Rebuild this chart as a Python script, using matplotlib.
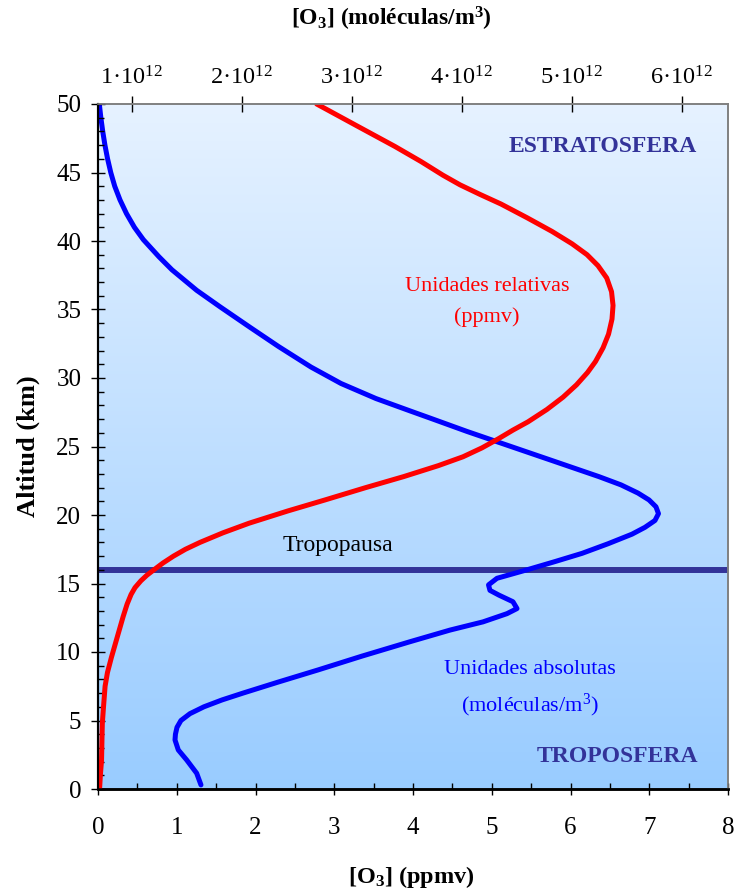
import numpy as np
import matplotlib.pyplot as plt
from matplotlib.ticker import MultipleLocator

plt.rcParams['font.family'] = ['Liberation Serif', 'DejaVu Serif']
plt.rcParams['mathtext.fontset'] = 'custom'
plt.rcParams['mathtext.rm'] = 'Liberation Serif'
plt.rcParams['mathtext.it'] = 'Liberation Serif:italic'
plt.rcParams['mathtext.bf'] = 'Liberation Serif:bold'

# Ozone mixing ratio (ppmv) vs altitude (km)
alt_ppmv = [0.0, 1.0, 2.1, 3.5, 4.8, 6.0, 7.5, 8.5, 9.6, 11.0, 12.6, 13.5, 14.2,
            14.7, 15.2, 15.6, 16.0, 16.5, 17.0, 17.5, 18.0, 18.7, 19.4, 20.3, 21.1,
            22.0, 22.8, 23.6, 24.25, 24.9, 25.55, 26.2, 26.8, 27.7, 28.6, 29.5,
            30.4, 31.2, 32.2, 33.2, 34.3, 35.3, 36.3, 37.3, 38.2, 39.0, 39.8,
            40.7, 41.7, 42.7, 43.4, 44.1, 44.8, 45.8, 46.9, 48.4, 50.0]
o3_ppmv = [0.02, 0.03, 0.045, 0.05, 0.055, 0.07, 0.09, 0.12, 0.17, 0.24, 0.32, 0.37,
           0.42, 0.47, 0.545, 0.62, 0.71, 0.826, 0.959, 1.111, 1.295, 1.587, 1.918,
           2.413, 2.883, 3.40, 3.88, 4.32, 4.635, 4.876, 5.08, 5.27, 5.46, 5.70,
           5.905, 6.076, 6.216, 6.317, 6.413, 6.483, 6.527, 6.54, 6.521, 6.46,
           6.349, 6.21, 6.019, 5.765, 5.448, 5.117, 4.851, 4.597, 4.381, 4.102,
           3.771, 3.289, 2.777]

# Ozone number density (10^12 molecules/m^3) vs altitude (km)
alt_dens = [0.3, 1.15, 2.12, 2.85, 3.58, 4.0, 4.5, 5.0, 5.5, 6.0, 6.5, 7.0, 7.8,
            8.69, 9.7, 10.75, 11.6, 12.2, 12.8, 13.17, 13.67, 14.15, 14.5, 14.9,
            15.38, 16.0, 16.6, 17.2, 17.9, 18.6, 19.1, 19.6, 20.1, 20.6, 21.1,
            21.6, 22.2, 22.8, 23.4, 24.0, 24.7, 25.5, 26.1, 27.05, 27.6, 28.5,
            29.6, 30.8, 32.3, 33.7, 35.2, 36.4, 37.9, 38.85, 40.1, 41.0, 42.0,
            43.0, 44.0, 45.0, 46.0, 47.0, 48.0, 49.0, 50.0]
o3_dens = [1.629, 1.590, 1.499, 1.423, 1.393, 1.397, 1.411, 1.447, 1.529, 1.656,
           1.820, 2.011, 2.329, 2.693, 3.093, 3.529, 3.893, 4.193, 4.411, 4.502,
           4.465, 4.338, 4.256, 4.243, 4.320, 4.593, 4.847, 5.093, 5.329, 5.547,
           5.665, 5.756, 5.788, 5.765, 5.702, 5.602, 5.447, 5.247, 5.029, 4.811,
           4.556, 4.265, 4.047, 3.720, 3.529, 3.220, 2.902, 2.629, 2.334, 2.075,
           1.802, 1.590, 1.365, 1.247, 1.105, 1.024, 0.952, 0.893, 0.845, 0.809,
           0.780, 0.756, 0.736, 0.719, 0.705]

tropopause_km = 16
dens_ticks = [1, 2, 3, 4, 5, 6]
dens_range = (0.693, 6.42)

fig = plt.figure(figsize=(7.36, 8.92), dpi=100)
ax = fig.add_axes([98 / 736, 1 - 789 / 892, 630 / 736, 685 / 892])
ax2 = ax.twiny()

# back axes: gradient, tropopause and density profile
ax.set_zorder(ax2.get_zorder() + 1)
ax.patch.set_visible(False)

top_col = np.array([0.902, 0.949, 1.0])
bot_col = np.array([0.60, 0.80, 1.0])
t = np.linspace(0, 1, 256)[:, None, None]
grad = top_col * (1 - t) + bot_col * t
ax2.imshow(grad, extent=(dens_range[0], dens_range[1], 0, 50), aspect='auto',
           origin='upper', zorder=0)
ax2.axhline(tropopause_km, color='#333399', lw=4.3, zorder=1)
ax2.plot(o3_dens, alt_dens, color='#0000FF', lw=3.6, solid_capstyle='round',
         solid_joinstyle='round', zorder=2)
ax2.set_xlim(*dens_range)
ax2.set_ylim(0, 50)

# front axes: mixing ratio profile
ax.plot(o3_ppmv, alt_ppmv, color='#FF0000', lw=3.6, solid_capstyle='round',
        solid_joinstyle='round')
ax.set_xlim(0, 8)
ax.set_ylim(0, 50)

ax.xaxis.set_major_locator(MultipleLocator(1))
ax.xaxis.set_minor_locator(MultipleLocator(0.5))
ax.yaxis.set_major_locator(MultipleLocator(5))
ax.yaxis.set_minor_locator(MultipleLocator(1))
ax.tick_params(axis='x', which='major', direction='inout', length=9, width=1,
               labelsize=18, pad=16, top=False)
ax.tick_params(axis='x', which='minor', direction='in', length=4.5, width=1, top=False)
ax.tick_params(axis='y', which='major', direction='inout', length=10, width=1,
               labelsize=18, pad=7)
ax.tick_params(axis='y', which='minor', direction='in', length=4, width=1)

ax2.set_xticks(dens_ticks)
ax2.set_xticklabels([f'${v}·10^{{12}}$' for v in dens_ticks])
ax2.tick_params(axis='x', which='major', direction='inout', length=11, width=1,
                labelsize=17.5, pad=5)

for a in (ax, ax2):
    a.spines['left'].set_color('black')
    a.spines['bottom'].set_color('black')
    a.spines['left'].set_linewidth(1.5)
    a.spines['bottom'].set_linewidth(1.8)
    a.spines['top'].set_color('#808080')
    a.spines['right'].set_color('#808080')
    a.spines['top'].set_linewidth(1.2)
    a.spines['right'].set_linewidth(1.2)

ax.set_xlabel(r'[O$_\mathbf{3}$] (ppmv)', fontsize=17.5, fontweight='bold')
ax.xaxis.set_label_coords(0.497, -0.11)
ax.set_ylabel('Altitud (km)', fontsize=19, fontweight='bold')
ax.yaxis.set_label_coords(-0.092, 0.5)
ax2.set_xlabel(r'[O$_\mathbf{3}$] (moléculas/m$^\mathbf{3}$)', fontsize=17, fontweight='bold')
ax2.xaxis.set_label_coords(0.465, 1.115)

ax.text(6.41, 46.9, 'ESTRATOSFERA', color='#333399', fontsize=17, fontweight='bold',
        ha='center', va='center')
ax.text(6.59, 2.36, 'TROPOSFERA', color='#333399', fontsize=17, fontweight='bold',
        ha='center', va='center')
ax.text(3.05, 17.8, 'Tropopausa', color='black', fontsize=17, ha='center', va='center')
ax.text(4.94, 36.66, 'Unidades relativas', color='#FF0000', fontsize=16,
        ha='center', va='center')
ax.text(4.94, 34.47, '(ppmv)', color='#FF0000', fontsize=16, ha='center', va='center')
ax.text(5.48, 8.69, 'Unidades absolutas', color='#0000FF', fontsize=16,
        ha='center', va='center')
ax.text(5.49, 6.13, '(moléculas/m$^3$)', color='#0000FF', fontsize=16,
        ha='center', va='center')

fig.savefig('out.png', dpi=100)
